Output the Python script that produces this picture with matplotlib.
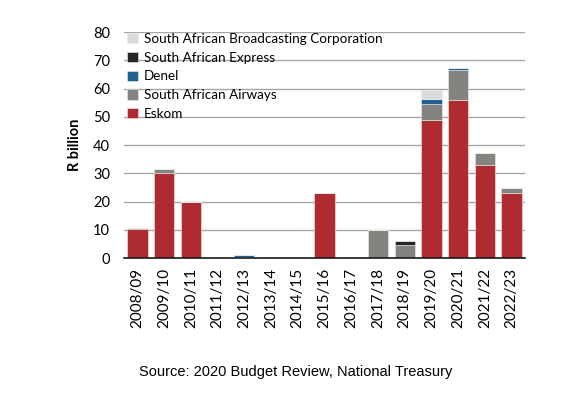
import matplotlib.pyplot as plt
import numpy as np

plt.rcParams['font.family'] = ['Lato', 'DejaVu Sans']

years = ['2008/09', '2009/10', '2010/11', '2011/12', '2012/13', '2013/14',
         '2014/15', '2015/16', '2016/17', '2017/18', '2018/19', '2019/20',
         '2020/21', '2021/22', '2022/23']

eskom = [10.2, 30.0, 20.0, 0, 0.5, 0, 0, 23.0, 0, 0, 0, 49.0, 56.0, 33.0, 23.0]
saa = [0.3, 1.6, 0, 0, 0, 0, 0, 0, 0, 10.0, 4.6, 5.5, 10.6, 4.2, 1.7]
denel = [0, 0, 0, 0, 0.4, 0, 0, 0, 0, 0, 0, 1.8, 0.5, 0, 0]
sae = [0, 0, 0, 0, 0, 0, 0, 0, 0, 0, 1.4, 0, 0, 0, 0]
sabc = [0, 0, 0, 0, 0, 0, 0, 0, 0, 0, 0, 3.2, 0, 0, 0]

series = [
    ('Eskom', eskom, '#AE2B2F'),
    ('South African Airways', saa, '#84837F'),
    ('Denel', denel, '#1F6190'),
    ('South African Express', sae, '#262626'),
    ('South African Broadcasting Corporation', sabc, '#DCDAD6'),
]

fig = plt.figure(figsize=(5.77, 3.97), dpi=100)
ax = fig.add_axes([124 / 577, 1 - 258 / 397, 401 / 577, 226 / 397])

x = np.arange(len(years))
bottom = np.zeros(len(years))
for name, vals, col in series:
    vals = np.array(vals)
    ax.bar(x, vals, 0.76, bottom=bottom, color=col, label=name,
           edgecolor='#ececec', linewidth=0.4, zorder=3)
    bottom += vals

ax.set_xlim(-0.5, len(years) - 0.5)
ax.set_ylim(0, 80)
ax.set_yticks(range(0, 81, 10))
ax.set_xticks(x)
ax.set_xticklabels(years, rotation=90, fontsize=11)
ax.tick_params(axis='y', labelsize=10.5, length=0, pad=10)
ax.tick_params(axis='x', length=0, pad=7)
ax.yaxis.grid(True, color='#A6A6A6', linewidth=1, zorder=0)
ax.set_axisbelow(True)
for s in ['left', 'right', 'top']:
    ax.spines[s].set_visible(False)
ax.spines['bottom'].set_color('#1a1a1a')
ax.spines['bottom'].set_linewidth(1.2)
ax.spines['bottom'].set_zorder(4)
ax.set_ylabel('R billion', fontsize=10.5, fontweight='bold', labelpad=8)

h, l = ax.get_legend_handles_labels()
ax.legend(h[::-1], l[::-1], loc='upper left', bbox_to_anchor=(-0.005, 1.02),
          frameon=False, fontsize=9.7, handlelength=0.8, handleheight=0.8,
          handletextpad=0.4, labelspacing=0.5, borderaxespad=0)

fig.text(296 / 577, 1 - 372 / 397, 'Source: 2020 Budget Review, National Treasury',
         ha='center', va='center', fontsize=10.5, family='Liberation Sans')

fig.savefig('out.png', dpi=100)
